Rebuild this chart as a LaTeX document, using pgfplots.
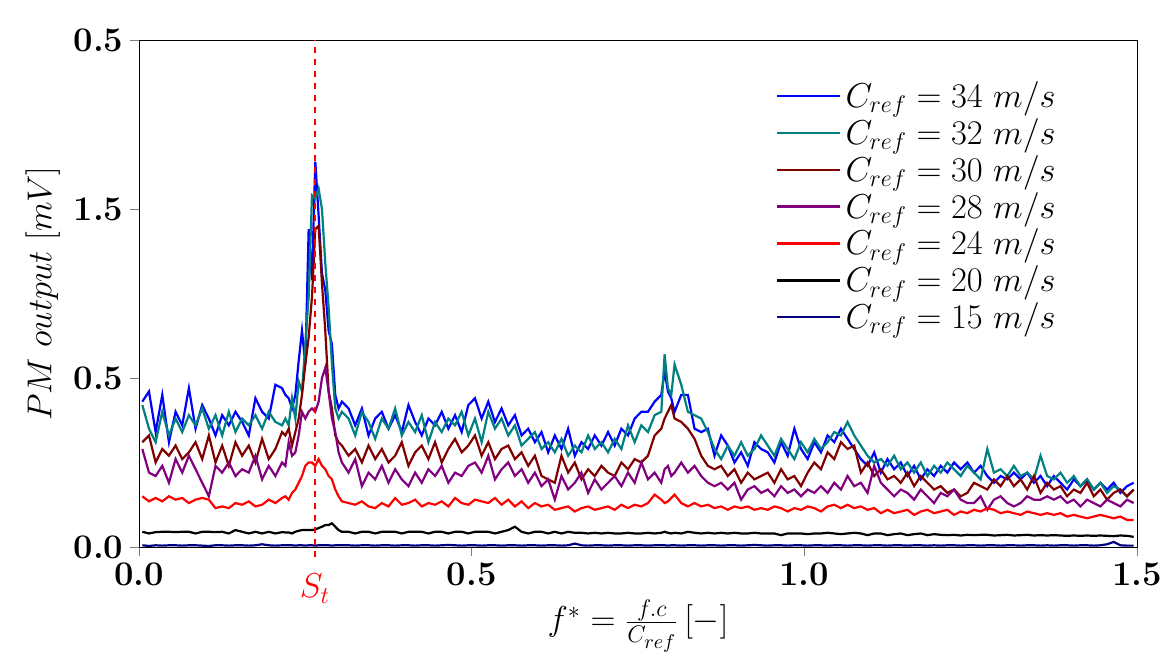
\documentclass[border=0pt]{standalone}
\usepackage{pgfplots}
\usepackage{pgfplotstable}
\pgfplotsset{compat=1.18}
\definecolor{cblue}{RGB}{0,0,255}
\definecolor{cteal}{RGB}{0,128,128}
\definecolor{cmaroon}{RGB}{128,0,0}
\definecolor{cpurple}{RGB}{128,0,128}
\definecolor{cred}{RGB}{255,0,0}
\definecolor{cnavy}{RGB}{0,0,128}

\pgfplotstableread{
fx vb vt vm vp vr vk vn
0.005 0.43 0.42 0.31 0.29 0.150 0.045 0.005
0.015 0.46 0.35 0.33 0.22 0.135 0.040 0.003
0.025 0.34 0.31 0.25 0.21 0.145 0.044 0.005
0.035 0.45 0.40 0.29 0.24 0.135 0.045 0.004
0.045 0.31 0.33 0.27 0.19 0.150 0.045 0.005
0.055 0.40 0.38 0.30 0.26 0.140 0.044 0.005
0.065 0.36 0.34 0.26 0.22 0.145 0.045 0.004
0.075 0.47 0.39 0.28 0.27 0.130 0.045 0.005
0.085 0.35 0.36 0.31 0.23 0.140 0.040 0.005
0.095 0.42 0.41 0.26 0.19 0.145 0.045 0.004
0.105 0.38 0.35 0.33 0.15 0.140 0.045 0.003
0.115 0.33 0.39 0.25 0.24 0.115 0.044 0.005
0.125 0.39 0.33 0.30 0.22 0.120 0.045 0.005
0.135 0.36 0.40 0.24 0.25 0.115 0.040 0.004
0.145 0.40 0.34 0.31 0.21 0.130 0.050 0.005
0.155 0.37 0.38 0.27 0.23 0.125 0.045 0.005
0.165 0.33 0.36 0.30 0.22 0.135 0.040 0.004
0.175 0.44 0.39 0.25 0.27 0.120 0.045 0.005
0.185 0.40 0.35 0.32 0.20 0.125 0.040 0.008
0.195 0.38 0.40 0.26 0.24 0.140 0.045 0.005
0.205 0.48 0.37 0.29 0.21 0.130 0.040 0.004
0.215 0.47 0.36 0.34 0.25 0.145 0.044 0.005
0.220 0.45 0.38 0.33 0.24 0.150 0.043 0.005
0.225 0.44 0.36 0.35 0.31 0.140 0.043 0.005
0.230 0.41 0.44 0.30 0.27 0.160 0.040 0.005
0.235 0.45 0.38 0.34 0.28 0.170 0.045 0.004
0.240 0.55 0.49 0.38 0.33 0.190 0.048 0.005
0.245 0.64 0.46 0.45 0.40 0.210 0.050 0.005
0.250 0.54 0.60 0.54 0.38 0.240 0.050 0.004
0.255 0.94 0.74 0.62 0.40 0.250 0.050 0.005
0.260 0.79 1.04 0.74 0.41 0.250 0.050 0.005
0.265 1.14 1.03 0.94 0.40 0.240 0.052 0.004
0.270 0.98 1.06 0.95 0.43 0.260 0.056 0.005
0.275 0.81 1.00 0.78 0.50 0.240 0.060 0.005
0.280 0.76 0.84 0.64 0.53 0.230 0.065 0.005
0.285 0.64 0.71 0.46 0.46 0.210 0.065 0.005
0.290 0.60 0.54 0.41 0.38 0.200 0.070 0.004
0.295 0.45 0.41 0.33 0.34 0.170 0.060 0.005
0.300 0.41 0.38 0.31 0.28 0.150 0.050 0.005
0.305 0.43 0.40 0.30 0.25 0.135 0.045 0.005
0.315 0.41 0.38 0.27 0.22 0.130 0.045 0.005
0.325 0.36 0.33 0.29 0.26 0.125 0.040 0.004
0.335 0.41 0.40 0.25 0.18 0.135 0.045 0.005
0.345 0.33 0.37 0.30 0.22 0.120 0.045 0.005
0.355 0.38 0.32 0.26 0.20 0.115 0.040 0.004
0.365 0.40 0.38 0.29 0.24 0.130 0.045 0.005
0.375 0.35 0.35 0.25 0.19 0.120 0.045 0.005
0.385 0.39 0.41 0.27 0.23 0.145 0.045 0.004
0.395 0.34 0.33 0.31 0.20 0.125 0.040 0.005
0.405 0.42 0.37 0.24 0.18 0.130 0.045 0.005
0.415 0.37 0.34 0.28 0.22 0.140 0.045 0.004
0.425 0.33 0.39 0.30 0.19 0.120 0.045 0.005
0.435 0.38 0.31 0.26 0.23 0.130 0.040 0.005
0.445 0.36 0.37 0.31 0.21 0.125 0.045 0.004
0.455 0.40 0.34 0.25 0.24 0.135 0.045 0.005
0.465 0.35 0.38 0.29 0.19 0.120 0.040 0.006
0.475 0.39 0.36 0.32 0.22 0.145 0.045 0.005
0.485 0.34 0.40 0.28 0.21 0.130 0.045 0.004
0.495 0.42 0.33 0.30 0.24 0.125 0.040 0.005
0.505 0.44 0.38 0.33 0.25 0.140 0.045 0.005
0.515 0.38 0.31 0.27 0.22 0.135 0.045 0.004
0.525 0.43 0.40 0.31 0.27 0.130 0.045 0.005
0.535 0.37 0.35 0.26 0.20 0.145 0.040 0.005
0.545 0.41 0.38 0.29 0.23 0.125 0.045 0.004
0.555 0.36 0.33 0.30 0.25 0.140 0.050 0.005
0.565 0.39 0.36 0.26 0.21 0.120 0.060 0.005
0.575 0.33 0.30 0.28 0.23 0.135 0.045 0.004
0.585 0.35 0.32 0.24 0.19 0.115 0.040 0.005
0.595 0.31 0.34 0.27 0.22 0.130 0.045 0.005
0.605 0.34 0.29 0.21 0.18 0.120 0.045 0.004
0.615 0.28 0.31 0.20 0.20 0.125 0.040 0.005
0.625 0.33 0.28 0.19 0.14 0.110 0.045 0.005
0.635 0.29 0.32 0.27 0.21 0.115 0.040 0.004
0.645 0.35 0.27 0.22 0.17 0.120 0.045 0.005
0.655 0.27 0.30 0.25 0.19 0.105 0.042 0.010
0.665 0.31 0.28 0.20 0.22 0.115 0.042 0.005
0.675 0.29 0.33 0.23 0.16 0.120 0.040 0.004
0.685 0.33 0.29 0.21 0.20 0.110 0.042 0.005
0.695 0.30 0.31 0.24 0.17 0.115 0.040 0.005
0.705 0.34 0.28 0.22 0.19 0.120 0.042 0.004
0.715 0.30 0.32 0.21 0.21 0.110 0.040 0.005
0.725 0.35 0.29 0.25 0.18 0.125 0.040 0.005
0.735 0.33 0.36 0.23 0.22 0.115 0.042 0.004
0.745 0.38 0.31 0.26 0.19 0.125 0.040 0.005
0.755 0.40 0.36 0.25 0.25 0.120 0.040 0.005
0.765 0.40 0.34 0.27 0.20 0.130 0.042 0.004
0.775 0.43 0.39 0.33 0.22 0.155 0.040 0.005
0.785 0.45 0.40 0.35 0.19 0.140 0.042 0.005
0.790 0.52 0.57 0.38 0.23 0.130 0.045 0.005
0.795 0.46 0.47 0.40 0.24 0.135 0.042 0.004
0.800 0.44 0.45 0.42 0.21 0.145 0.040 0.005
0.805 0.40 0.54 0.38 0.22 0.155 0.042 0.005
0.815 0.45 0.48 0.37 0.25 0.130 0.040 0.004
0.825 0.45 0.40 0.35 0.22 0.120 0.045 0.005
0.835 0.35 0.39 0.32 0.24 0.130 0.042 0.005
0.845 0.34 0.38 0.27 0.21 0.120 0.040 0.004
0.855 0.35 0.34 0.24 0.19 0.125 0.042 0.005
0.865 0.27 0.29 0.23 0.18 0.115 0.040 0.005
0.875 0.33 0.26 0.24 0.19 0.120 0.042 0.004
0.885 0.30 0.30 0.21 0.17 0.110 0.040 0.005
0.895 0.25 0.27 0.23 0.19 0.120 0.042 0.005
0.905 0.28 0.31 0.19 0.14 0.115 0.040 0.004
0.915 0.24 0.27 0.22 0.17 0.120 0.040 0.005
0.925 0.31 0.29 0.20 0.18 0.110 0.042 0.006
0.935 0.29 0.33 0.21 0.16 0.115 0.040 0.005
0.945 0.28 0.30 0.22 0.17 0.110 0.040 0.004
0.955 0.25 0.27 0.19 0.15 0.120 0.040 0.005
0.965 0.31 0.32 0.23 0.18 0.115 0.035 0.005
0.975 0.27 0.29 0.20 0.16 0.105 0.040 0.004
0.985 0.35 0.26 0.21 0.17 0.115 0.040 0.005
0.995 0.29 0.31 0.18 0.15 0.110 0.040 0.005
1.005 0.26 0.28 0.22 0.17 0.120 0.038 0.004
1.015 0.31 0.32 0.25 0.16 0.115 0.040 0.005
1.025 0.28 0.29 0.23 0.18 0.105 0.040 0.005
1.035 0.33 0.31 0.28 0.16 0.120 0.042 0.004
1.045 0.31 0.34 0.26 0.19 0.125 0.040 0.005
1.055 0.35 0.33 0.31 0.17 0.115 0.038 0.005
1.065 0.32 0.37 0.29 0.21 0.125 0.040 0.004
1.075 0.29 0.33 0.30 0.18 0.115 0.042 0.005
1.085 0.26 0.30 0.22 0.19 0.120 0.040 0.005
1.095 0.24 0.27 0.25 0.16 0.110 0.035 0.004
1.105 0.28 0.25 0.21 0.24 0.115 0.040 0.005
1.115 0.22 0.26 0.23 0.19 0.100 0.040 0.005
1.125 0.26 0.24 0.20 0.17 0.110 0.035 0.004
1.135 0.23 0.27 0.21 0.15 0.100 0.038 0.005
1.145 0.25 0.23 0.19 0.17 0.105 0.040 0.005
1.155 0.21 0.25 0.22 0.16 0.110 0.035 0.004
1.165 0.24 0.22 0.18 0.14 0.095 0.038 0.005
1.175 0.20 0.25 0.21 0.17 0.105 0.040 0.005
1.185 0.23 0.21 0.19 0.15 0.110 0.035 0.004
1.195 0.21 0.24 0.17 0.13 0.100 0.038 0.005
1.205 0.24 0.22 0.18 0.16 0.105 0.036 0.004
1.215 0.22 0.25 0.16 0.15 0.110 0.035 0.005
1.225 0.25 0.23 0.17 0.17 0.095 0.036 0.005
1.235 0.23 0.21 0.15 0.14 0.105 0.034 0.004
1.245 0.25 0.24 0.16 0.13 0.100 0.036 0.005
1.255 0.22 0.22 0.19 0.13 0.110 0.035 0.005
1.265 0.24 0.20 0.18 0.15 0.105 0.036 0.004
1.275 0.21 0.29 0.17 0.11 0.115 0.036 0.005
1.285 0.19 0.22 0.20 0.14 0.110 0.034 0.005
1.295 0.21 0.23 0.18 0.15 0.100 0.035 0.004
1.305 0.20 0.21 0.21 0.13 0.105 0.036 0.005
1.315 0.22 0.24 0.18 0.12 0.100 0.034 0.005
1.325 0.20 0.21 0.20 0.13 0.095 0.035 0.004
1.335 0.22 0.22 0.17 0.15 0.105 0.036 0.005
1.345 0.19 0.20 0.21 0.14 0.100 0.034 0.005
1.355 0.21 0.27 0.16 0.14 0.095 0.035 0.004
1.365 0.18 0.21 0.19 0.15 0.100 0.034 0.005
1.375 0.21 0.20 0.17 0.14 0.095 0.035 0.004
1.385 0.19 0.22 0.18 0.15 0.100 0.034 0.005
1.395 0.17 0.19 0.15 0.13 0.090 0.033 0.005
1.405 0.20 0.21 0.17 0.14 0.095 0.034 0.004
1.415 0.18 0.18 0.16 0.12 0.090 0.033 0.005
1.425 0.20 0.20 0.19 0.14 0.085 0.034 0.005
1.435 0.17 0.17 0.15 0.13 0.090 0.033 0.004
1.445 0.19 0.19 0.17 0.12 0.095 0.034 0.005
1.455 0.17 0.16 0.14 0.14 0.090 0.033 0.008
1.465 0.19 0.18 0.16 0.13 0.085 0.032 0.015
1.475 0.16 0.17 0.17 0.12 0.090 0.034 0.005
1.485 0.18 0.15 0.15 0.14 0.080 0.033 0.004
1.495 0.19 0.17 0.17 0.13 0.080 0.030 0.004
}\datatable

\begin{document}
\begin{tikzpicture}
\begin{axis}[
  scale only axis, width=499pt, height=253.5pt,
  xmin=0, xmax=1.5, ymin=0, ymax=1.5,
  clip=false,
  xtick={0,0.5,1,1.5}, xticklabels={0.0,0.5,1.0,1.5},
  ytick={0,0.5,1,1.5}, yticklabels={0.0,0.5,1.5,0.5},
  tick align=outside, tick pos=left,
  tick label style={font=\LARGE\bfseries},
  label style={font=\LARGE},
  xlabel={$f^{*} = \frac{f.c}{C_{ref}}\,[-]$},
  ylabel={$PM\ output\ [mV]$},
  legend style={at={(0.632,0.935)}, anchor=north west, draw=none, font=\LARGE},
  legend cell align=left,
  legend image post style={xscale=1.85},
]
\addplot[cblue, line width=1.1pt] table[x=fx,y=vb]{\datatable};
\addlegendentry{$C_{ref} = 34\ m/s$}
\addplot[cteal, line width=1.1pt] table[x=fx,y=vt]{\datatable};
\addlegendentry{$C_{ref} = 32\ m/s$}
\addplot[cmaroon, line width=1.1pt] table[x=fx,y=vm]{\datatable};
\addlegendentry{$C_{ref} = 30\ m/s$}
\addplot[cpurple, line width=1.1pt] table[x=fx,y=vp]{\datatable};
\addlegendentry{$C_{ref} = 28\ m/s$}
\addplot[cred, line width=1.1pt] table[x=fx,y=vr]{\datatable};
\addlegendentry{$C_{ref} = 24\ m/s$}
\addplot[black, line width=1.1pt] table[x=fx,y=vk]{\datatable};
\addlegendentry{$C_{ref} = 20\ m/s$}
\addplot[cnavy, line width=1.1pt] table[x=fx,y=vn]{\datatable};
\addlegendentry{$C_{ref} = 15\ m/s$}
\addplot[red, dashed, line width=0.7pt, forget plot] coordinates {(0.2645,-0.03) (0.2645,1.5)};
\node[red, anchor=north, font=\LARGE] at (axis cs:0.2645,-0.06) {$S_t$};
\end{axis}
\pgfresetboundingbox
\path ([shift={(-69.5pt,-57pt)}]current axis.south west) rectangle ([shift={(13pt,20pt)}]current axis.north east);
\end{tikzpicture}
\end{document}
